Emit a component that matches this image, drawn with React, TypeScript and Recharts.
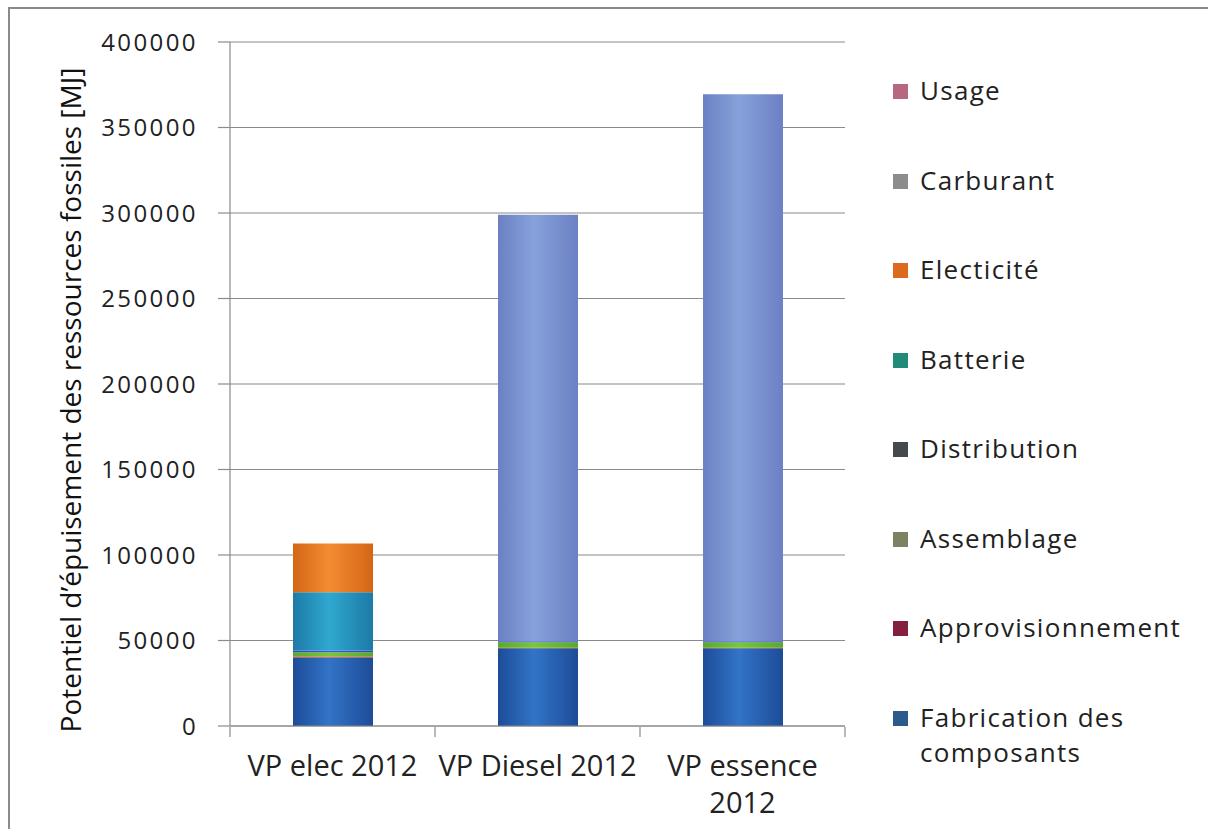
import React from "react";
import { BarChart, Bar, XAxis, YAxis, CartesianGrid } from "recharts";

const categories = ["VP elec 2012", "VP Diesel 2012", "VP essence 2012"];
const fabrication = [40000, 45500, 45500];
const approvisionnement = [700, 300, 300];
const assemblage = [2500, 3200, 3200];
const distribution = [1000, 500, 500];
const batterie = [34000, 0, 0];
const electricite = [28500, 0, 0];
const carburant = [0, 249500, 320000];
const usage = [0, 0, 0];
const yTicks = [0, 50000, 100000, 150000, 200000, 250000, 300000, 350000, 400000];

const seriesNames = [
  "Fabrication des composants",
  "Approvisionnement",
  "Assemblage",
  "Distribution",
  "Batterie",
  "Electicité",
  "Carburant",
  "Usage",
];
const seriesValues = [fabrication, approvisionnement, assemblage, distribution, batterie, electricite, carburant, usage];
const seriesKeys = ["fab", "appro", "assem", "distr", "batt", "elec", "carb", "usage"];
// bar gradient colours: [edge, centre]
const barColors = [
  ["#1d4c98", "#3274c6"],
  ["#b82a22", "#d8442e"],
  ["#5aa828", "#78c83a"],
  ["#2a45c0", "#3a5ce0"],
  ["#1c7aa6", "#2fa8cf"],
  ["#d46616", "#f28c32"],
  ["#6c80c4", "#86a2da"],
  ["#b0607a", "#d080a0"],
];
const legendColors = ["#2c5a8c", "#84203e", "#7c8262", "#45484c", "#228a78", "#dc6a1e", "#8c8c8c", "#b8687e"];

const data = categories.map((c, i) => {
  const row: Record<string, string | number> = { name: c };
  seriesKeys.forEach((k, j) => {
    row[k] = seriesValues[j][i];
  });
  return row;
});

const FONT = "'Open Sans', 'DejaVu Sans', sans-serif";
const MAX_LINE_CHARS = 14;

const wrapLabel = (s: string): string[] => {
  if (s.length <= MAX_LINE_CHARS) return [s];
  const cut = s.lastIndexOf(" ");
  return [s.slice(0, cut), s.slice(cut + 1)];
};

const XTick = (props: any) => {
  const { x, y, payload } = props;
  const lines = wrapLabel(String(payload.value));
  return (
    <text x={x} y={y + 42} textAnchor="middle" fontSize={29} fontFamily={FONT} fill="#222">
      {lines.map((l, i) => (
        <tspan key={i} x={x} dy={i === 0 ? 0 : 37}>
          {l}
        </tspan>
      ))}
    </text>
  );
};

const YTitle = () => (
  <text
    transform="translate(70,400) rotate(-90)"
    textAnchor="middle"
    dominantBaseline="central"
    fontSize={28}
    fontFamily={FONT}
    fill="#111"
  >
    Potentiel d’épuisement des ressources fossiles [MJ]
  </text>
);

export default function App() {
  const legendOrder = [...seriesNames.keys()].reverse();
  return (
    <div style={{ position: "absolute", left: 0, top: 0, width: 1213, height: 829, background: "#fff", overflow: "hidden" }}>
      <div
        style={{
          position: "absolute",
          left: 8,
          top: 7,
          width: 1200,
          height: 830,
          borderLeft: "2px solid #8a8a8a",
          borderTop: "2px solid #8a8a8a",
          boxSizing: "border-box",
        }}
      />
      <BarChart
        width={1213}
        height={829}
        data={data}
        margin={{ top: 42, right: 368, bottom: 0, left: 0 }}
        barSize={80}
      >
        <defs>
          {barColors.map((c, i) => (
            <linearGradient key={i} id={`g${i}`} x1="0" y1="0" x2="1" y2="0">
              <stop offset="0%" stopColor={c[0]} />
              <stop offset="45%" stopColor={c[1]} />
              <stop offset="100%" stopColor={c[0]} />
            </linearGradient>
          ))}
        </defs>
        <CartesianGrid vertical={false} stroke="#8a8a8a" strokeWidth={1.2} />
        <XAxis
          dataKey="name"
          height={1}
          axisLine={{ stroke: "#8a8a8a", strokeWidth: 1.2 }}
          tickLine={false}
          tick={<XTick />}
          interval={0}
        />
        <XAxis
          xAxisId="b"
          type="number"
          dataKey={() => 0}
          domain={[0, 3]}
          ticks={[0, 1, 2, 3]}
          height={102}
          tickSize={10}
          tickFormatter={() => ""}
          stroke="#8a8a8a"
          tickLine={{ stroke: "#8a8a8a", strokeWidth: 1.2 }}
          axisLine={false}
          allowDataOverflow
        />
        <YAxis
          width={230}
          domain={[0, 400000]}
          ticks={yTicks}
          interval={0}
          tickSize={12}
          tickMargin={20}
          stroke="#8a8a8a"
          tickLine={{ stroke: "#8a8a8a", strokeWidth: 1.2 }}
          axisLine={{ stroke: "#8a8a8a", strokeWidth: 1.2 }}
          tick={{ fontSize: 24, fill: "#222", fontFamily: FONT, letterSpacing: 2.4 }}
          label={<YTitle />}
        />
        {seriesKeys.map((k, i) => (
          <Bar
            key={k}
            dataKey={k}
            name={seriesNames[i]}
            stackId="s"
            fill={`url(#g${i})`}
            isAnimationActive={false}
          />
        ))}
      </BarChart>
      <div style={{ position: "absolute", left: 893, top: 0, fontFamily: FONT, fontSize: 26, letterSpacing: 1.3, color: "#222" }}>
        {legendOrder.map((idx, row) => (
          <div
            key={idx}
            style={{ position: "absolute", top: 73 + row * 89.5, left: 0, display: "flex", alignItems: "flex-start", whiteSpace: "nowrap" }}
          >
            <div style={{ width: 15, height: 15, background: legendColors[idx], marginTop: 11, marginRight: 12, flexShrink: 0 }} />
            <div style={{ lineHeight: "35px", width: 300, whiteSpace: "normal" }}>
              {seriesNames[idx] === "Fabrication des composants" ? (
                <>
                  Fabrication des
                  <br />
                  composants
                </>
              ) : (
                seriesNames[idx]
              )}
            </div>
          </div>
        ))}
      </div>
    </div>
  );
}
